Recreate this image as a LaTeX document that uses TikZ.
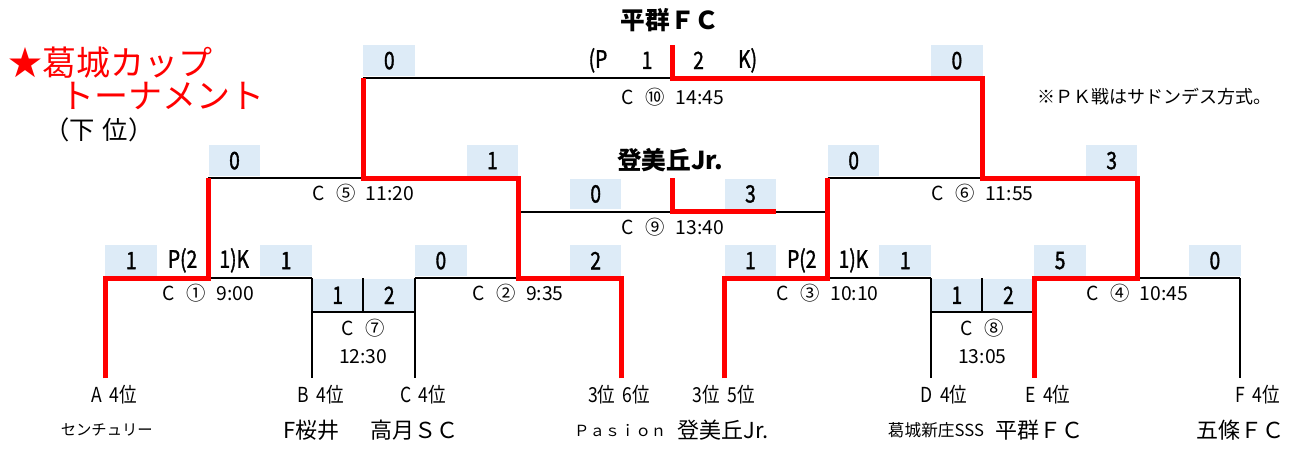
\documentclass[tikz,border=0pt]{standalone}
\usepackage{fontspec}
\setmainfont{Noto Sans CJK JP}
\newfontfamily\narrowfont[FakeStretch=0.85]{Noto Sans CJK JP}
\newfontfamily\scorefont[FakeStretch=0.8,FakeBold=1.4]{Noto Sans CJK JP}
\definecolor{scoreblue}{RGB}{221,235,247}
\definecolor{winred}{RGB}{255,0,0}
\newcommand{\gameinfo}[2]{C\hspace{.6em}#1\hspace{.55em}#2}
\tikzset{
  scorebox/.style={fill=scoreblue, anchor=north west, inner sep=0pt,
    minimum width=38.7pt, minimum height=23pt,
    font=\scorefont\fontsize{18}{18}\selectfont},
  scorecell/.style={scorebox, minimum height=25pt},
  pktext/.style={inner sep=0pt, font=\scorefont\fontsize{18}{18}\selectfont},
  matchtext/.style={inner sep=0pt, font=\fontsize{14.5}{14.5}\selectfont},
  seedtext/.style={inner sep=0pt, font=\narrowfont\fontsize{15.5}{15.5}\selectfont},
  teamtext/.style={inner sep=0pt, font=\fontsize{16.5}{16.5}\selectfont},
  smallteam/.style={inner sep=0pt, font=\fontsize{11.5}{11.5}\selectfont},
  wintext/.style={inner sep=0pt, font=\bfseries\fontsize{18.5}{18.5}\selectfont},
  titletext/.style={inner sep=0pt, anchor=west, text=winred, font=\fontsize{25.5}{25.5}\selectfont},
  bline/.style={line width=1.5pt},
  rline/.style={line width=3.75pt, draw=winred},
}

\begin{document}
\begin{tikzpicture}[x=38.7pt,y=-25pt]
    \useasboundingbox (-0.039,-0.351) rectangle (24.942,13.15);

    % title
    \node[titletext] (title1) at (0.12,1.54) {★葛城カップ};
    \node[titletext] (title2) at (1.12,2.53) {トーナメント};
    \node[inner sep=0pt, anchor=west, font=\fontsize{19}{19}\selectfont] (title3) at (0.82,3.55) {（下\hspace{.3em}位）};
    \node[inner sep=0pt, anchor=west, font=\fontsize{13.5}{13.5}\selectfont] (pknote) at (20.06,2.56) {※ＰＫ戦はサドンデス方式。};

    % score cells
    \foreach \c/\r/\v [count=\i] in {7/1/0, 18/1/0, 4/4/0, 9/4/1, 16/4/0, 21/4/3, 11/5/0, 14/5/3,
            2/7/1, 5/7/1, 8/7/0, 11/7/2, 14/7/1, 17/7/1, 20/7/5, 23/7/0}
        \node[scorebox] (score\i) at (\c,\r) {\v};
    \foreach \c/\v [count=\i] in {6/1, 7/2, 18/1, 19/2}
        \node[scorecell] (cell\i) at (\c,8) {\v};

    % bracket
    \draw[bline] (7,2) -- (19,2);
    \draw[bline] (4,5) -- (10,5) (16,5) -- (22,5) (10,6) -- (16,6);
    \draw[bline] (2,8) -- (6,8) (8,8) -- (12,8) (14,8) -- (18,8) (20,8) -- (24,8);
    \draw[bline] (6,8) -- (6,11) (8,8) -- (8,11) (18,8) -- (18,11) (24,8) -- (24,11);
    \draw[bline] (6,9) -- (8,9) (7,8) -- (7,9) (18,9) -- (20,9) (19,8) -- (19,9);

    % winners
    \draw[rline] (2,11) |- (4,8) -- (4,5);
    \draw[rline] (12,11) |- (10,8) -- (10,5) -| (7,2);
    \draw[rline] (13,1) |- (19,2) -- (19,5) -| (22,8) -| (20,11);
    \draw[rline] (14,11) |- (16,8) -- (16,5);
    \draw[rline] (13,5) |- (15,6);

    % penalty kicks
    \node[pktext] (pk1) at (3.5,7.46) {P(2};
    \node[pktext] (pk2) at (4.5,7.46) {1)K};
    \node[pktext] (pk3) at (15.5,7.46) {P(2};
    \node[pktext] (pk4) at (16.5,7.46) {1)K};
    \node[pktext] (pk5) at (11.55,1.46) {(P};
    \node[pktext] (pk6) at (12.5,1.46) {1};
    \node[pktext] (pk7) at (13.5,1.46) {2};
    \node[pktext] (pk8) at (14.45,1.46) {K)};

    % games
    \node[matchtext] (game1) at (4,8.45) {\gameinfo{①}{9:00}};
    \node[matchtext] (game2) at (10,8.45) {\gameinfo{②}{9:35}};
    \node[matchtext] (game3) at (16,8.45) {\gameinfo{③}{10:10}};
    \node[matchtext] (game4) at (22,8.45) {\gameinfo{④}{10:45}};
    \node[matchtext] (game5) at (7,5.45) {\gameinfo{⑤}{11:20}};
    \node[matchtext] (game6) at (19,5.45) {\gameinfo{⑥}{11:55}};
    \node[matchtext] (game7) at (7,9.5) {C\hspace{.6em}⑦};
    \node[matchtext] (time7) at (7,10.35) {12:30};
    \node[matchtext] (game8) at (19,9.5) {C\hspace{.6em}⑧};
    \node[matchtext] (time8) at (19,10.35) {13:05};
    \node[matchtext] (game9) at (13,6.46) {\gameinfo{⑨}{13:40}};
    \node[matchtext] (game10) at (13,2.56) {\gameinfo{⑩}{14:45}};
    \node[wintext] (win10) at (12.95,0.25) {平群ＦＣ};
    \node[wintext] (win9) at (12.95,4.45) {登美丘Jr.};

    % seeds and teams
    \foreach \c/\a/\b [count=\i] in {2.17/A/4位, 6.18/B/4位, 8.16/C/4位, 11.96/3位/6位,
            13.99/3位/5位, 18.26/D/4位, 20.27/E/4位, 24.34/F/4位}
        \node[seedtext] (seed\i) at (\c,11.5) {\a\hspace{.35em}\b};
    \node[smallteam] (team1) at (2.03,12.55) {センチュリー};
    \node[teamtext] (team2) at (6,12.55) {F桜井};
    \node[teamtext] (team3) at (8,12.55) {高月ＳＣ};
    \node[smallteam] (team4) at (11.98,12.55) {Ｐａｓｉｏｎ};
    \node[teamtext] (team5) at (13.97,12.55) {登美丘Jr.};
    \node[inner sep=0pt, font=\fontsize{12.5}{12.5}\selectfont] (team6) at (18.1,12.55) {葛城新庄SSS};
    \node[teamtext] (team7) at (20.1,12.55) {平群ＦＣ};
    \node[teamtext] (team8) at (24,12.55) {五條ＦＣ};
\end{tikzpicture}
\end{document}
